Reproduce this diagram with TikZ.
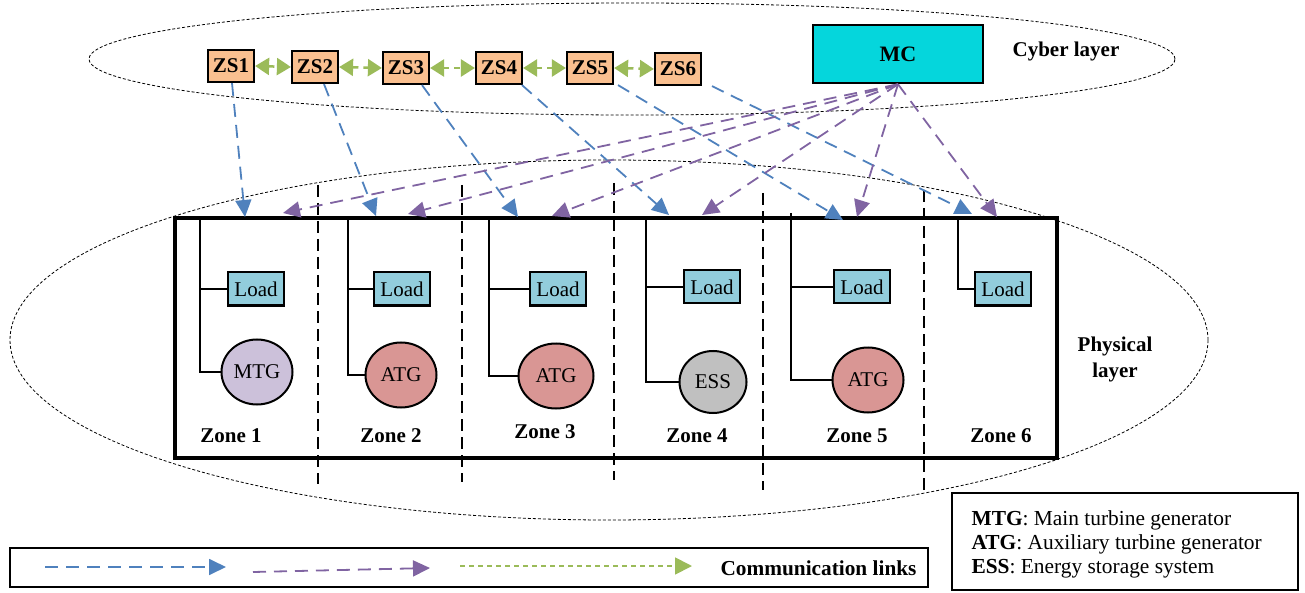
\documentclass[tikz,border=0pt]{standalone}
\usepackage{fontspec}
\setmainfont{Liberation Serif}
\usetikzlibrary{arrows.meta,shapes.geometric}
\definecolor{linkblue}{HTML}{4F81BD}
\definecolor{linkpurple}{HTML}{8064A2}
\definecolor{linkgreen}{HTML}{9BBB59}
\definecolor{zsfill}{HTML}{FAC090}
\definecolor{mcfill}{HTML}{05D6DC}
\definecolor{loadfill}{HTML}{92CDDC}
\definecolor{mtgfill}{HTML}{CCC1DA}
\definecolor{atgfill}{HTML}{D99694}
\definecolor{essfill}{HTML}{C0C0C0}
\begin{document}
\begin{tikzpicture}[x=1pt,y=-1pt,
  layerline/.style={black,line width=0.8pt,dash pattern=on 3pt off 2pt},
  zonediv/.style={black,line width=1.6pt,dash pattern=on 12pt off 6pt},
  bus/.style={black,line width=2pt},
  zsbox/.style={draw,line width=2.2pt,fill=zsfill,minimum width=46pt,minimum height=32pt,inner sep=0pt,font=\fontsize{21}{22}\selectfont\bfseries},
  mcbox/.style={draw,line width=2.5pt,fill=mcfill,minimum width=170pt,minimum height=58pt,inner sep=0pt,font=\fontsize{22}{24}\selectfont\bfseries},
  loadbox/.style={draw,line width=2pt,fill=loadfill,minimum width=56pt,minimum height=33pt,inner sep=0pt,font=\fontsize{21}{24}\selectfont},
  gen/.style={draw,ellipse,line width=2pt,minimum width=71pt,minimum height=65pt,inner sep=0pt,font=\fontsize{21}{24}\selectfont},
  zonelabel/.style={font=\fontsize{21}{24}\selectfont\bfseries},
  bluelink/.style={linkblue,line width=1.8pt,dash pattern=on 13pt off 8pt,-{Triangle[length=17pt,width=16pt]}},
  purplelink/.style={linkpurple,line width=1.8pt,dash pattern=on 13pt off 8pt,-{Triangle[length=17pt,width=16pt]}},
  greenlink/.style={linkgreen,line width=2.5pt,dash pattern=on 6pt off 5pt,{Triangle[length=14pt,width=17pt]}-{Triangle[length=14pt,width=17pt]}},
  greenlegend/.style={linkgreen,line width=1.8pt,dash pattern=on 5pt off 4pt,-{Triangle[length=17pt,width=17pt]}}
]
\useasboundingbox (0,0) rectangle (1305,593);

% layers
\draw[layerline] (632,59) ellipse [x radius=543pt, y radius=56pt];
\draw[layerline] (609,340) ellipse [x radius=599pt, y radius=180pt];
\node[font=\fontsize{21}{24}\selectfont\bfseries] (cyber) at (1066,51) {Cyber layer};
\node[font=\fontsize{21}{26}\selectfont\bfseries,align=center] (phys) at (1115,359) {Physical\\layer};

% zone dividers
\draw[zonediv] (318,185) -- (318,484);
\draw[zonediv] (462,185) -- (462,482);
\draw[zonediv] (614,183) -- (614,480);
\draw[zonediv] (763,193) -- (763,490);
\draw[zonediv] (924,190) -- (924,492);

% ship power system frame
\draw[line width=4pt] (175,218) rectangle (1057,458);

% zonal controllers and main controller
\node[zsbox] (zs1) at (231,66) {ZS1};
\node[zsbox] (zs2) at (315,67) {ZS2};
\node[zsbox] (zs3) at (406,68) {ZS3};
\node[zsbox] (zs4) at (499,68) {ZS4};
\node[zsbox] (zs5) at (590,68) {ZS5};
\node[zsbox] (zs6) at (678,69) {ZS6};
\node[mcbox] (mc) at (898,54) {MC};

% loads
\node[loadbox] (l1) at (256,289) {Load};
\node[loadbox] (l2) at (402,289) {Load};
\node[loadbox] (l3) at (558,289) {Load};
\node[loadbox] (l4) at (712,287) {Load};
\node[loadbox] (l5) at (862,287) {Load};
\node[loadbox] (l6) at (1003,289) {Load};

% generators and storage
\node[gen,fill=mtgfill] (g1) at (257,372) {MTG};
\node[gen,fill=atgfill] (g2) at (401,375) {ATG};
\node[gen,fill=atgfill,minimum width=75pt] (g3) at (556,376) {ATG};
\node[gen,fill=essfill,minimum width=67pt,minimum height=62pt] (g4) at (713,382) {ESS};
\node[gen,fill=atgfill] (g5) at (868,380) {ATG};

% zone buses
\coordinate (b1) at (200,218);
\coordinate (b2) at (348,218);
\coordinate (b3) at (489,218);
\coordinate (b4) at (646,218);
\coordinate (b5) at (791,213);
\coordinate (b6) at (958,218);
\draw[bus] (b1) |- (g1.west);
\draw[bus] (b1 |- l1.west) -- (l1.west);
\draw[bus] (b2) |- (g2.west);
\draw[bus] (b2 |- l2.west) -- (l2.west);
\draw[bus] (b3) |- (g3.west);
\draw[bus] (b3 |- l3.west) -- (l3.west);
\draw[bus] (b4) |- (g4.west);
\draw[bus] (b4 |- l4.west) -- (l4.west);
\draw[bus] (b5) |- (g5.west);
\draw[bus] (b5 |- l5.west) -- (l5.west);
\draw[bus] (b6) |- (l6.west);

% zone labels
\node[zonelabel] (z1) at (231,436) {Zone 1};
\node[zonelabel] (z2) at (391,436) {Zone 2};
\node[zonelabel] (z3) at (545,432) {Zone 3};
\node[zonelabel] (z4) at (697,436) {Zone 4};
\node[zonelabel] (z5) at (857,436) {Zone 5};
\node[zonelabel] (z6) at (1001,436) {Zone 6};

% links between neighbouring zonal controllers
\draw[greenlink] (zs1.east) -- (zs2.west);
\draw[greenlink] (zs2.east) -- (zs3.west);
\draw[greenlink] (zs3.east) -- (zs4.west);
\draw[greenlink] (zs4.east) -- (zs5.west);
\draw[greenlink] (zs5.east) -- (zs6.west);

% zonal controller -> zone links
\coordinate (ba1) at (245,217);
\coordinate (ba2) at (376,216);
\coordinate (ba3) at (518,217);
\coordinate (ba4) at (669,215);
\coordinate (ba5) at (843,220);
\coordinate (ba6) at (972,214);
\draw[bluelink] ([xshift=1pt]zs1.south) -- (ba1);
\draw[bluelink] ([xshift=9pt]zs2.south) -- (ba2);
\draw[bluelink] ([xshift=16pt]zs3.south) -- (ba3);
\draw[bluelink] ([xshift=23pt]zs4.south) -- (ba4);
\draw[bluelink] ([xshift=28pt]zs5.south) -- (ba5);
\draw[bluelink] ([xshift=34pt]zs6.south) -- (ba6);

% main controller -> zone links
\coordinate (pa1) at (283,213);
\coordinate (pa2) at (408,214);
\coordinate (pa3) at (552,216);
\coordinate (pa4) at (702,215);
\coordinate (pa5) at (857,217);
\coordinate (pa6) at (997,217);
\foreach \k in {1,...,6}{\draw[purplelink] (mc.south) -- (pa\k);}

% link legend
\draw[line width=1.5pt] (10,548) rectangle (928,587);
\coordinate (lb1) at (45,567);
\coordinate (lb2) at (226,567);
\coordinate (lp1) at (253,572);
\coordinate (lp2) at (430,568);
\coordinate (lg1) at (460,566);
\coordinate (lg2) at (692,566);
\draw[bluelink] (lb1) -- (lb2);
\draw[purplelink] (lp1) -- (lp2);
\draw[greenlegend] (lg1) -- (lg2);
\node[anchor=east,font=\fontsize{21.3}{24}\selectfont\bfseries] (commlinks) at (920,568) {Communication links};

% abbreviations
\draw[line width=2pt] (952,493) rectangle (1298,590);
\node[anchor=west,align=left,font=\fontsize{21.4}{24}\selectfont] (abbr) at (968,544)
  {\textbf{MTG}: Main turbine generator\\\textbf{ATG}: Auxiliary turbine generator\\\textbf{ESS}: Energy storage system};
\end{tikzpicture}
\end{document}
